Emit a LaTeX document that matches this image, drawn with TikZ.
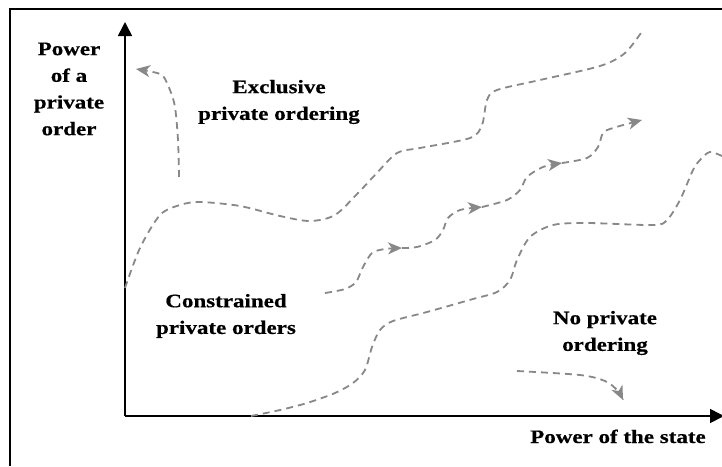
\documentclass[tikz,border=0pt]{standalone}
\usepackage{fontspec}
\setmainfont{Liberation Serif}[FakeStretch=1.21,BoldFeatures={FakeBold=0.5}]
\usetikzlibrary{arrows.meta}
\definecolor{gris}{RGB}{136,136,136}
\begin{document}
\begin{tikzpicture}[x=1pt,y=-1pt]
    \tikzstyle{axe}=[line width=1.6pt,-{Triangle[length=14pt,width=14pt]}]
    \tikzstyle{courbe}=[gris,line width=1.8pt,dash pattern=on 7pt off 5pt]
    \tikzstyle{fleche}=[courbe,-{Stealth[length=14pt,width=12pt,inset=4pt]}]
    \tikzstyle{etiquette}=[align=center,inner sep=0pt,font=\fontsize{19}{26.7}\selectfont\bfseries]
    \useasboundingbox (0,0) rectangle (722,466);
    \draw[line width=1.6pt] (10,466) -- (10,9) -- (722,9);
    \coordinate (O) at (125,416);
    \coordinate (haut) at (125,22);
    \coordinate (droite) at (724,416);
    \draw[axe] (O) -- (haut);
    \draw[axe] (O) -- (droite);
    \node[etiquette] (ordre) at (69,89) {Power\\of a\\private\\order};
    \node[etiquette] (exclusif) at (279,102) {Exclusive\\private ordering};
    \node[etiquette] (contraint) at (226,316) {Constrained\\private orders};
    \node[etiquette] (aucun) at (605,333) {No private\\ordering};
    \node[etiquette,anchor=base] (etat) at (618,443) {Power of the state};
    \draw[courbe] plot[smooth] coordinates {(125,288) (140,248) (160,215) (180,205) (200,202) (240,206) (280,216) (310,221) (335,215) (358,193) (375,175) (397,153) (420,148) (470,138) (482,125) (487,100) (497,90) (540,80) (600,66) (625,53) (643,30)};
    \draw[courbe] plot[smooth] coordinates {(251,416) (280,410) (307,403) (335,393) (353,383) (365,370) (372,347) (380,330) (393,321) (427,312) (473,299) (497,292) (510,280) (517,260) (530,237) (553,225) (587,223) (653,225) (667,220) (680,200) (693,170) (700,160) (710,152) (724,157)};
    \draw[fleche] plot[smooth] coordinates {(325,293) (345,289) (356,282) (363,267) (372,253) (385,249) (402,248)};
    \draw[fleche] plot[smooth] coordinates {(402,248) (417,247) (435,240) (443,230) (448,218) (460,210) (482,207)};
    \draw[fleche] plot[smooth] coordinates {(482,207) (507,200) (520,190) (527,177) (543,167) (562,163)};
    \draw[fleche] plot[smooth] coordinates {(562,163) (587,158) (598,147) (603,133) (613,128) (642,120)};
    \draw[fleche] plot[smooth] coordinates {(179,177) (178,140) (175,107) (170,90) (163,76) (153,72) (136,69)};
    \draw[fleche] plot[smooth] coordinates {(517,371) (580,375) (605,381) (617,390) (623,400)};
\end{tikzpicture}
\end{document}
